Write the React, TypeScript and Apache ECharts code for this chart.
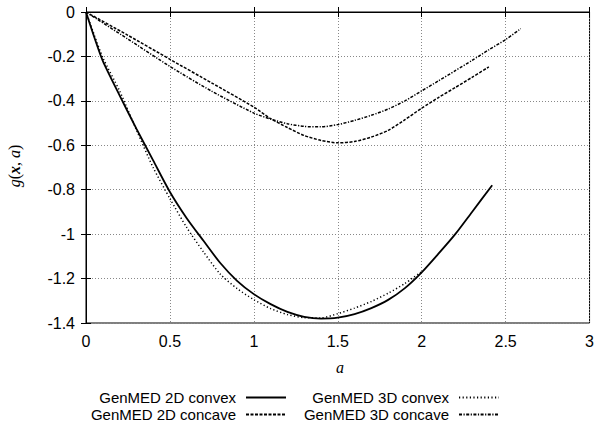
import React, { useEffect, useRef } from "react";
import * as echarts from "echarts";

const xTicks = { min: 0, max: 3, interval: 0.5 };
const yTicks = { min: -1.4, max: 0, interval: 0.2 };

const seriesNames = ["GenMED 2D convex", "GenMED 2D concave", "GenMED 3D convex", "GenMED 3D concave"];

const a2dConvex = [0, 0.05, 0.1, 0.2, 0.3, 0.4, 0.5, 0.6, 0.7, 0.8, 0.9, 1.0, 1.1, 1.2, 1.3, 1.4, 1.5, 1.6, 1.7, 1.8, 1.9, 2.0, 2.1, 2.2, 2.3, 2.42];
const g2dConvex = [0, -0.115, -0.22, -0.375, -0.525, -0.668, -0.81, -0.928, -1.03, -1.13, -1.21, -1.27, -1.315, -1.35, -1.372, -1.38, -1.376, -1.36, -1.333, -1.296, -1.243, -1.172, -1.088, -1.0, -0.9, -0.78];

const a2dConcave = [0, 0.25, 0.5, 0.75, 1.0, 1.1, 1.2, 1.3, 1.4, 1.5, 1.6, 1.7, 1.8, 1.9, 2.0, 2.1, 2.2, 2.3, 2.4];
const g2dConcave = [0, -0.105, -0.213, -0.32, -0.428, -0.48, -0.52, -0.556, -0.578, -0.589, -0.583, -0.563, -0.533, -0.485, -0.433, -0.385, -0.34, -0.294, -0.247];

const a3dConvex = [0, 0.05, 0.1, 0.2, 0.3, 0.4, 0.5, 0.6, 0.7, 0.8, 0.9, 1.0, 1.1, 1.2, 1.3, 1.4, 1.5, 1.6, 1.7, 1.8, 1.9, 2.0];
const g3dConvex = [0, -0.105, -0.205, -0.355, -0.53, -0.7, -0.84, -0.97, -1.08, -1.18, -1.245, -1.295, -1.335, -1.362, -1.376, -1.377, -1.358, -1.333, -1.303, -1.266, -1.222, -1.168];

const a3dConcave = [0, 0.25, 0.5, 0.75, 1.0, 1.1, 1.2, 1.3, 1.4, 1.5, 1.6, 1.7, 1.8, 1.9, 2.0, 2.1, 2.2, 2.3, 2.4, 2.5, 2.59];
const g3dConcave = [0, -0.122, -0.245, -0.357, -0.455, -0.482, -0.503, -0.515, -0.517, -0.507, -0.488, -0.465, -0.437, -0.4, -0.355, -0.31, -0.264, -0.218, -0.17, -0.124, -0.075];

const zip = (xs: number[], ys: number[]) => xs.map((x, i) => [x, ys[i]]);

const FONT = "Liberation Sans";

export default function App() {
  const ref = useRef<HTMLDivElement>(null);
  useEffect(() => {
    if (!ref.current) return;
    const chart = echarts.init(ref.current, null, { renderer: "svg" });
    const splitLine = { show: true, lineStyle: { color: "#888", width: 1, type: [1, 2] } };
    const axisLine = { show: true, lineStyle: { color: "#000", width: 1 } };
    const tick = { show: true, inside: true, length: 5, lineStyle: { color: "#000" } };
    const mkLine = (name: string, data: number[][], type: any, width: number) => ({
      name,
      type: "line",
      data,
      xAxisIndex: 0,
      yAxisIndex: 0,
      symbol: "none",
      smooth: 0.25,
      lineStyle: { color: "#000", width, type },
      itemStyle: { color: "rgba(0,0,0,0)", borderColor: "rgba(0,0,0,0)", borderWidth: 0 },
      emphasis: { disabled: true },
    });
    const legendBase = {
      orient: "horizontal",
      align: "right",
      itemWidth: 40,
      itemHeight: 10,
      padding: 0,
      selectedMode: false,
      itemStyle: { color: "rgba(0,0,0,0)", borderColor: "rgba(0,0,0,0)", borderWidth: 0, opacity: 0 },
      textStyle: { fontFamily: FONT, fontSize: 15, lineHeight: 15, color: "#000", padding: [0, 5, 0, 0] },
    };
    chart.setOption({
      animation: false,
      backgroundColor: "#fff",
      grid: { left: 86, right: 4, top: 12, bottom: 103, show: true, borderColor: "#000", borderWidth: 1 },
      xAxis: [
        {
          type: "value",
          ...xTicks,
          position: "bottom",
          axisLine,
          axisTick: tick,
          axisLabel: { fontFamily: FONT, fontSize: 16, color: "#000", margin: 10 },
          splitLine,
        },
        {
          type: "value",
          ...xTicks,
          position: "top",
          axisLine,
          axisTick: tick,
          axisLabel: { show: false },
          splitLine: { show: false },
        },
      ],
      yAxis: [
        {
          type: "value",
          ...yTicks,
          position: "left",
          axisLine,
          axisTick: tick,
          axisLabel: { fontFamily: FONT, fontSize: 16, color: "#000", margin: 11 },
          splitLine,
        },
        {
          type: "value",
          ...yTicks,
          position: "right",
          axisLine,
          axisTick: tick,
          axisLabel: { show: false },
          splitLine: { show: false },
        },
      ],
      legend: [
        { ...legendBase, data: [seriesNames[0]], right: 310, top: 390 },
        { ...legendBase, data: [seriesNames[1]], right: 310, top: 407 },
        { ...legendBase, data: [seriesNames[2]], right: 97, top: 390 },
        { ...legendBase, data: [seriesNames[3]], right: 97, top: 407 },
      ],
      graphic: [
        {
          type: "text",
          x: 340,
          y: 367,
          style: {
            text: "a",
            font: "italic 16px 'Liberation Serif'",
            fill: "#000",
            align: "center",
            verticalAlign: "middle",
          },
        },
        {
          type: "text",
          x: 14,
          y: 166,
          rotation: Math.PI / 2,
          style: {
            text: "{i|g}{n|(}{b|x}{n|, }{i|a}{n|)}",
            align: "center",
            verticalAlign: "middle",
            fill: "#000",
            rich: {
              i: { fontFamily: "Liberation Serif", fontStyle: "italic", fontSize: 16, fill: "#000" },
              b: { fontFamily: "Liberation Serif", fontStyle: "italic", fontWeight: "bold", fontSize: 16, fill: "#000" },
              n: { fontFamily: "Liberation Serif", fontSize: 16, fill: "#000" },
            },
          },
        },
      ],
      series: [
        mkLine(seriesNames[0], zip(a2dConvex, g2dConvex), "solid", 1.8),
        mkLine(seriesNames[1], zip(a2dConcave, g2dConcave), [3, 1.5], 1.5),
        mkLine(seriesNames[2], zip(a3dConvex, g3dConvex), [1.2, 2.4], 1.5),
        mkLine(seriesNames[3], zip(a3dConcave, g3dConcave), [3, 1.5, 1.2, 1.5], 1.5),
      ],
    });
    return () => chart.dispose();
  }, []);
  return <div ref={ref} style={{ width: 597, height: 426, position: "absolute", left: 0, top: 0 }} />;
}
